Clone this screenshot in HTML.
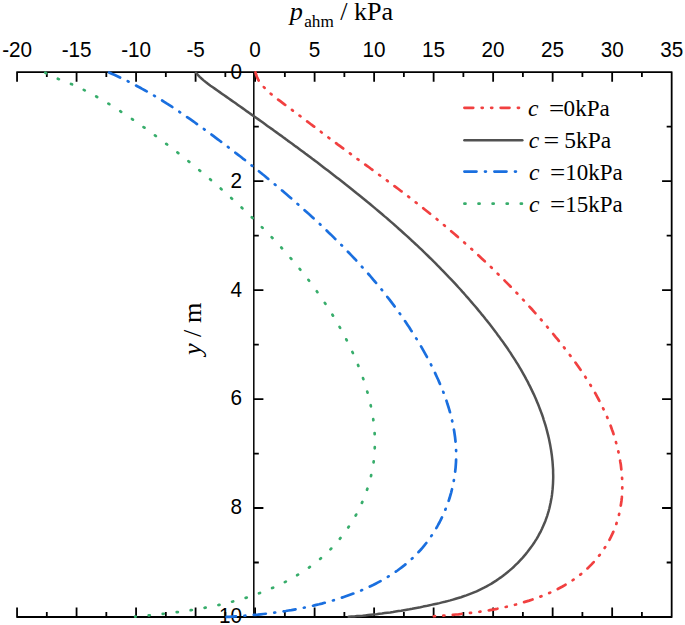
<!DOCTYPE html><html><head><meta charset="utf-8"><title>p_ahm vs y</title><style>html,body{margin:0;padding:0;background:#fff}svg{display:block}text{fill:#000}</style></head><body>
<svg width="685" height="625" viewBox="0 0 685 625">
<rect width="685" height="625" fill="#fff"/>
<path d="M16.31,72.10 H672.42 M16.31,617.00 H672.42 M671.67,72.10 V617.00 M17.06,72.10 v9.60 M17.06,617.00 v-9.60 M46.81,72.10 v5.00 M46.81,617.00 v-5.00 M76.57,72.10 v9.60 M76.57,617.00 v-9.60 M106.33,72.10 v5.00 M106.33,617.00 v-5.00 M136.08,72.10 v9.60 M136.08,617.00 v-9.60 M165.83,72.10 v5.00 M165.83,617.00 v-5.00 M195.59,72.10 v9.60 M195.59,617.00 v-9.60 M225.34,72.10 v5.00 M225.34,617.00 v-5.00 M255.10,72.10 v9.60 M255.10,617.00 v-9.60 M284.86,72.10 v5.00 M284.86,617.00 v-5.00 M314.61,72.10 v9.60 M314.61,617.00 v-9.60 M344.37,72.10 v5.00 M344.37,617.00 v-5.00 M374.12,72.10 v9.60 M374.12,617.00 v-9.60 M403.88,72.10 v5.00 M403.88,617.00 v-5.00 M433.63,72.10 v9.60 M433.63,617.00 v-9.60 M463.38,72.10 v5.00 M463.38,617.00 v-5.00 M493.14,72.10 v9.60 M493.14,617.00 v-9.60 M522.89,72.10 v5.00 M522.89,617.00 v-5.00 M552.65,72.10 v9.60 M552.65,617.00 v-9.60 M582.40,72.10 v5.00 M582.40,617.00 v-5.00 M612.16,72.10 v9.60 M612.16,617.00 v-9.60 M641.91,72.10 v5.00 M641.91,617.00 v-5.00 M671.67,72.10 v9.60 M671.67,617.00 v-9.60 M253.80,72.10 h9.60 M671.67,72.10 h-9.60 M253.80,126.59 h5.00 M671.67,126.59 h-5.00 M253.80,181.08 h9.60 M671.67,181.08 h-9.60 M253.80,235.57 h5.00 M671.67,235.57 h-5.00 M253.80,290.06 h9.60 M671.67,290.06 h-9.60 M253.80,344.55 h5.00 M671.67,344.55 h-5.00 M253.80,399.04 h9.60 M671.67,399.04 h-9.60 M253.80,453.53 h5.00 M671.67,453.53 h-5.00 M253.80,508.02 h9.60 M671.67,508.02 h-9.60 M253.80,562.51 h5.00 M671.67,562.51 h-5.00 M253.80,617.00 h9.60 M671.67,617.00 h-9.60" stroke="#000" stroke-width="1.8" fill="none"/>
<path d="M253.80,72.10 V617.00" stroke="#000" stroke-width="1.5" fill="none"/>
<g font-family="Liberation Sans, sans-serif" font-size="20.7px">
<text transform="translate(17.1,56.5) scale(1,1.07)" text-anchor="middle">-20</text>
<text transform="translate(76.6,56.5) scale(1,1.07)" text-anchor="middle">-15</text>
<text transform="translate(136.1,56.5) scale(1,1.07)" text-anchor="middle">-10</text>
<text transform="translate(195.6,56.5) scale(1,1.07)" text-anchor="middle">-5</text>
<text transform="translate(255.1,56.5) scale(1,1.07)" text-anchor="middle">0</text>
<text transform="translate(314.6,56.5) scale(1,1.07)" text-anchor="middle">5</text>
<text transform="translate(374.1,56.5) scale(1,1.07)" text-anchor="middle">10</text>
<text transform="translate(433.6,56.5) scale(1,1.07)" text-anchor="middle">15</text>
<text transform="translate(493.1,56.5) scale(1,1.07)" text-anchor="middle">20</text>
<text transform="translate(552.6,56.5) scale(1,1.07)" text-anchor="middle">25</text>
<text transform="translate(612.2,56.5) scale(1,1.07)" text-anchor="middle">30</text>
<text transform="translate(671.7,56.5) scale(1,1.07)" text-anchor="middle">35</text>
<text transform="translate(242.1,78.5) scale(1,1.07)" text-anchor="end">0</text>
<text transform="translate(242.1,187.5) scale(1,1.07)" text-anchor="end">2</text>
<text transform="translate(242.1,296.5) scale(1,1.07)" text-anchor="end">4</text>
<text transform="translate(242.1,405.4) scale(1,1.07)" text-anchor="end">6</text>
<text transform="translate(242.1,514.4) scale(1,1.07)" text-anchor="end">8</text>
<text transform="translate(242.1,623.4) scale(1,1.07)" text-anchor="end">10</text>
</g>
<g fill="none" stroke-width="2.7" stroke-linejoin="round" stroke-linecap="round">
<path d="M45.3,72.6 L47.5,74.3 L49.8,75.7 L52.4,76.8 L55.0,77.8 L57.7,78.7 L60.4,79.7 L63.0,80.7 L65.7,81.7 L68.3,82.8 L70.9,83.9 L73.5,85.0 L76.1,86.2 L78.6,87.4 L81.2,88.6 L83.7,89.8 L86.2,91.1 L88.8,92.4 L91.3,93.8 L93.7,95.1 L96.2,96.5 L98.7,97.9 L101.1,99.3 L103.6,100.8 L106.0,102.2 L108.5,103.7 L110.9,105.2 L113.3,106.7 L115.7,108.2 L118.1,109.8 L120.5,111.3 L122.8,112.9 L125.2,114.4 L127.6,116.0 L129.9,117.6 L132.2,119.2 L134.6,120.8 L136.9,122.4 L139.2,124.0 L141.6,125.7 L143.9,127.3 L146.2,128.9 L148.5,130.6 L150.8,132.3 L153.0,133.9 L155.3,135.6 L157.6,137.3 L159.9,139.0 L162.1,140.7 L164.4,142.4 L166.6,144.1 L168.9,145.8 L171.1,147.5 L173.3,149.2 L175.6,151.0 L177.8,152.7 L180.0,154.4 L182.2,156.2 L184.4,158.0 L186.6,159.7 L188.8,161.5 L191.0,163.3 L193.2,165.1 L195.4,166.9 L197.5,168.7 L199.7,170.5 L201.9,172.3 L204.0,174.1 L206.2,175.9 L208.3,177.8 L210.5,179.6 L212.6,181.5 L214.8,183.3 L216.9,185.2 L219.0,187.0 L221.1,188.9 L223.3,190.8 L225.4,192.7 L227.5,194.6 L229.6,196.5 L231.7,198.4 L233.8,200.3 L235.9,202.2 L238.0,204.1 L240.1,206.0 L242.1,208.0 L244.2,209.9 L246.3,211.9 L248.3,213.8 L250.4,215.8 L252.4,217.8 L254.5,219.7 L256.5,221.7 L258.5,223.7 L260.5,225.7 L262.5,227.8 L264.5,229.8 L266.5,231.8 L268.5,233.8 L270.4,235.9 L272.4,237.9 L274.3,240.0 L276.3,242.1 L278.2,244.1 L280.1,246.2 L282.0,248.3 L283.9,250.4 L285.8,252.6 L287.7,254.7 L289.5,256.8 L291.4,259.0 L293.2,261.1 L295.0,263.3 L296.9,265.4 L298.7,267.6 L300.4,269.8 L302.2,272.0 L304.0,274.2 L305.7,276.4 L307.5,278.7 L309.2,280.9 L310.9,283.2 L312.6,285.4 L314.2,287.7 L315.9,290.0 L317.5,292.3 L319.2,294.6 L320.8,296.9 L322.4,299.2 L324.0,301.6 L325.5,303.9 L327.1,306.3 L328.6,308.6 L330.1,311.0 L331.6,313.4 L333.1,315.8 L334.6,318.2 L336.0,320.7 L337.4,323.1 L338.8,325.6 L340.2,328.0 L341.6,330.5 L343.0,333.0 L344.3,335.5 L345.6,338.0 L346.9,340.5 L348.2,343.1 L349.4,345.6 L350.6,348.2 L351.8,350.8 L353.0,353.3 L354.2,356.0 L355.3,358.6 L356.5,361.2 L357.6,363.8 L358.6,366.5 L359.7,369.1 L360.7,371.8 L361.7,374.5 L362.7,377.2 L363.6,379.9 L364.5,382.6 L365.4,385.3 L366.2,388.0 L367.0,390.8 L367.8,393.5 L368.5,396.3 L369.2,399.0 L369.9,401.8 L370.5,404.5 L371.1,407.3 L371.7,410.1 L372.2,412.9 L372.6,415.6 L373.1,418.4 L373.5,421.2 L373.8,424.0 L374.1,426.8 L374.3,429.6 L374.6,432.4 L374.7,435.2 L374.8,438.0 L374.9,440.8 L374.9,443.6 L374.8,446.4 L374.7,449.2 L374.6,452.0 L374.4,454.8 L374.1,457.5 L373.8,460.3 L373.5,463.1 L373.0,465.9 L372.6,468.7 L372.0,471.4 L371.4,474.2 L370.8,476.9 L370.1,479.7 L369.4,482.4 L368.6,485.1 L367.7,487.8 L366.8,490.5 L365.8,493.2 L364.8,495.9 L363.8,498.5 L362.7,501.1 L361.5,503.8 L360.3,506.3 L359.1,508.9 L357.8,511.5 L356.5,514.0 L355.1,516.5 L353.7,519.0 L352.2,521.4 L350.7,523.8 L349.1,526.2 L347.5,528.6 L345.9,530.9 L344.2,533.2 L342.5,535.5 L340.7,537.7 L338.9,539.9 L337.1,542.1 L335.2,544.2 L333.3,546.3 L331.4,548.4 L329.4,550.4 L327.4,552.4 L325.3,554.3 L323.2,556.2 L321.1,558.0 L319.0,559.9 L316.8,561.6 L314.6,563.4 L312.3,565.1 L310.1,566.8 L307.8,568.4 L305.5,570.0 L303.1,571.5 L300.7,573.1 L298.3,574.5 L295.9,576.0 L293.5,577.4 L291.0,578.8 L288.5,580.2 L286.0,581.5 L283.5,582.8 L281.0,584.0 L278.4,585.2 L275.8,586.4 L273.2,587.6 L270.6,588.7 L268.0,589.8 L265.3,590.9 L262.7,591.9 L260.0,592.9 L257.3,593.9 L254.7,594.9 L252.0,595.8 L249.3,596.7 L246.5,597.6 L243.8,598.4 L241.1,599.2 L238.4,600.0 L235.6,600.8 L232.9,601.5 L230.1,602.3 L227.4,603.0 L224.6,603.6 L221.9,604.3 L219.1,604.9 L216.4,605.5 L213.6,606.1 L210.8,606.6 L208.1,607.2 L205.3,607.7 L202.5,608.2 L199.7,608.7 L197.0,609.2 L194.2,609.6 L191.4,610.1 L188.6,610.5 L185.8,610.9 L183.0,611.3 L180.2,611.7 L177.4,612.1 L174.6,612.4 L171.8,612.8 L169.0,613.1 L166.2,613.5 L163.4,613.8 L160.6,614.1 L157.8,614.4 L155.0,614.7 L152.1,615.0 L149.3,615.3 L146.5,615.6 L143.7,615.8 L140.8,616.1 L138.0,616.4 L135.2,616.7" stroke="#37AD6B" stroke-dasharray="1.1 13"/>
<path d="M109.1,72.5 L111.7,73.7 L114.3,74.8 L116.9,76.0 L119.5,77.2 L122.1,78.4 L124.6,79.7 L127.2,80.9 L129.7,82.2 L132.2,83.5 L134.7,84.8 L137.3,86.2 L139.8,87.5 L142.2,88.9 L144.7,90.2 L147.2,91.6 L149.7,93.0 L152.1,94.5 L154.6,95.9 L157.0,97.4 L159.4,98.9 L161.8,100.3 L164.2,101.8 L166.6,103.4 L169.0,104.9 L171.4,106.4 L173.8,108.0 L176.2,109.6 L178.5,111.2 L180.9,112.8 L183.2,114.4 L185.6,116.0 L187.9,117.6 L190.2,119.2 L192.6,120.9 L194.9,122.5 L197.2,124.2 L199.5,125.8 L201.8,127.5 L204.1,129.2 L206.4,130.9 L208.7,132.5 L211.0,134.2 L213.3,135.9 L215.5,137.6 L217.8,139.3 L220.1,141.0 L222.4,142.7 L224.6,144.4 L226.9,146.1 L229.2,147.9 L231.4,149.6 L233.7,151.3 L235.9,153.1 L238.2,154.8 L240.4,156.5 L242.6,158.3 L244.9,160.0 L247.1,161.8 L249.3,163.6 L251.5,165.3 L253.7,167.1 L256.0,168.9 L258.2,170.7 L260.4,172.5 L262.6,174.3 L264.8,176.0 L267.0,177.9 L269.2,179.7 L271.3,181.5 L273.5,183.3 L275.7,185.1 L277.9,186.9 L280.0,188.8 L282.2,190.6 L284.4,192.5 L286.5,194.3 L288.7,196.2 L290.8,198.0 L293.0,199.9 L295.1,201.8 L297.2,203.6 L299.4,205.5 L301.5,207.4 L303.6,209.3 L305.7,211.2 L307.8,213.1 L310.0,215.0 L312.1,216.9 L314.1,218.8 L316.2,220.8 L318.3,222.7 L320.4,224.6 L322.5,226.6 L324.5,228.5 L326.6,230.5 L328.6,232.5 L330.7,234.4 L332.7,236.4 L334.7,238.4 L336.8,240.4 L338.8,242.4 L340.8,244.4 L342.8,246.4 L344.8,248.5 L346.7,250.5 L348.7,252.5 L350.7,254.6 L352.6,256.6 L354.6,258.7 L356.5,260.8 L358.4,262.9 L360.3,265.0 L362.2,267.1 L364.1,269.2 L366.0,271.3 L367.9,273.4 L369.8,275.5 L371.6,277.7 L373.4,279.8 L375.3,282.0 L377.1,284.2 L378.9,286.3 L380.7,288.5 L382.5,290.7 L384.2,292.9 L386.0,295.2 L387.7,297.4 L389.5,299.6 L391.2,301.9 L392.9,304.1 L394.6,306.4 L396.3,308.7 L397.9,311.0 L399.6,313.3 L401.2,315.6 L402.8,317.9 L404.5,320.3 L406.0,322.6 L407.6,325.0 L409.2,327.3 L410.7,329.7 L412.3,332.1 L413.8,334.5 L415.3,336.9 L416.8,339.3 L418.3,341.8 L419.7,344.2 L421.2,346.7 L422.6,349.2 L424.0,351.6 L425.4,354.1 L426.8,356.7 L428.1,359.2 L429.4,361.7 L430.8,364.3 L432.1,366.8 L433.3,369.4 L434.6,372.0 L435.8,374.6 L437.0,377.2 L438.2,379.8 L439.3,382.4 L440.5,385.1 L441.6,387.7 L442.6,390.4 L443.7,393.0 L444.7,395.7 L445.6,398.4 L446.6,401.1 L447.4,403.8 L448.3,406.5 L449.1,409.2 L449.9,411.9 L450.6,414.6 L451.3,417.4 L452.0,420.1 L452.6,422.9 L453.2,425.6 L453.7,428.4 L454.2,431.2 L454.6,434.0 L455.0,436.7 L455.3,439.5 L455.6,442.3 L455.8,445.1 L456.0,447.9 L456.1,450.7 L456.2,453.5 L456.2,456.3 L456.1,459.2 L456.0,462.0 L455.8,464.8 L455.6,467.6 L455.3,470.4 L455.0,473.3 L454.6,476.1 L454.1,478.9 L453.6,481.7 L453.1,484.5 L452.5,487.2 L451.8,490.0 L451.1,492.8 L450.3,495.5 L449.5,498.3 L448.6,501.0 L447.6,503.7 L446.7,506.4 L445.6,509.0 L444.5,511.7 L443.4,514.3 L442.2,516.9 L441.0,519.4 L439.7,522.0 L438.3,524.5 L437.0,527.0 L435.5,529.4 L434.0,531.9 L432.5,534.3 L430.9,536.6 L429.3,538.9 L427.7,541.2 L425.9,543.5 L424.2,545.7 L422.4,547.8 L420.5,550.0 L418.6,552.0 L416.7,554.1 L414.7,556.1 L412.7,558.0 L410.6,559.9 L408.5,561.8 L406.4,563.6 L404.2,565.4 L402.0,567.1 L399.8,568.8 L397.5,570.5 L395.2,572.1 L392.8,573.7 L390.4,575.2 L388.0,576.7 L385.6,578.2 L383.1,579.6 L380.7,581.0 L378.1,582.4 L375.6,583.7 L373.1,585.0 L370.5,586.2 L367.9,587.4 L365.3,588.6 L362.6,589.8 L360.0,590.9 L357.3,592.0 L354.6,593.1 L352.0,594.1 L349.3,595.1 L346.5,596.1 L343.8,597.0 L341.1,597.9 L338.3,598.8 L335.6,599.7 L332.9,600.5 L330.1,601.3 L327.3,602.1 L324.6,602.8 L321.8,603.6 L319.1,604.3 L316.3,604.9 L313.5,605.6 L310.8,606.2 L308.0,606.8 L305.2,607.4 L302.5,608.0 L299.7,608.6 L296.9,609.1 L294.2,609.6 L291.4,610.1 L288.6,610.5 L285.8,611.0 L283.1,611.4 L280.3,611.8 L277.5,612.2 L274.7,612.6 L271.9,613.0 L269.1,613.3 L266.3,613.7 L263.5,614.0 L260.7,614.3 L257.9,614.6 L255.0,614.8 L252.2,615.1 L249.4,615.3 L246.5,615.6 L243.7,615.8 L240.9,616.0 L238.0,616.2 L235.2,616.4 L232.3,616.6 L229.4,616.8 L226.6,616.9" stroke="#1A6FDF" stroke-dasharray="12.1 8.5 0.9 8.5"/>
<path d="M196.0,72.8 L197.8,74.9 L199.7,76.9 L201.8,78.8 L203.9,80.6 L206.0,82.3 L208.2,84.0 L210.5,85.7 L212.8,87.3 L215.1,88.9 L217.4,90.5 L219.7,92.1 L221.9,93.7 L224.2,95.3 L226.5,96.9 L228.8,98.5 L231.1,100.1 L233.4,101.7 L235.7,103.3 L237.9,104.9 L240.2,106.5 L242.5,108.1 L244.8,109.7 L247.0,111.4 L249.3,113.0 L251.6,114.6 L253.9,116.2 L256.1,117.8 L258.4,119.4 L260.7,121.0 L262.9,122.6 L265.2,124.3 L267.4,125.9 L269.7,127.5 L272.0,129.1 L274.2,130.8 L276.5,132.4 L278.7,134.0 L281.0,135.6 L283.2,137.3 L285.5,138.9 L287.7,140.6 L290.0,142.2 L292.2,143.8 L294.4,145.5 L296.7,147.1 L298.9,148.8 L301.2,150.5 L303.4,152.1 L305.6,153.8 L307.9,155.4 L310.1,157.1 L312.3,158.8 L314.6,160.4 L316.8,162.1 L319.0,163.8 L321.2,165.5 L323.4,167.2 L325.7,168.9 L327.9,170.6 L330.1,172.3 L332.3,174.0 L334.5,175.7 L336.7,177.4 L338.9,179.1 L341.1,180.8 L343.3,182.5 L345.5,184.3 L347.7,186.0 L349.9,187.7 L352.1,189.5 L354.2,191.2 L356.4,193.0 L358.6,194.7 L360.8,196.5 L362.9,198.2 L365.1,200.0 L367.2,201.8 L369.4,203.5 L371.5,205.3 L373.7,207.1 L375.8,208.9 L378.0,210.7 L380.1,212.5 L382.2,214.3 L384.3,216.1 L386.5,217.9 L388.6,219.8 L390.7,221.6 L392.8,223.4 L394.9,225.3 L397.0,227.1 L399.0,229.0 L401.1,230.8 L403.2,232.7 L405.3,234.6 L407.3,236.4 L409.4,238.3 L411.4,240.2 L413.5,242.1 L415.5,244.0 L417.6,245.9 L419.6,247.8 L421.6,249.7 L423.6,251.7 L425.6,253.6 L427.6,255.5 L429.6,257.5 L431.6,259.4 L433.6,261.4 L435.6,263.3 L437.5,265.3 L439.5,267.3 L441.4,269.3 L443.4,271.3 L445.3,273.3 L447.2,275.3 L449.1,277.3 L451.1,279.3 L453.0,281.3 L454.9,283.4 L456.7,285.4 L458.6,287.5 L460.5,289.5 L462.3,291.6 L464.2,293.7 L466.0,295.8 L467.9,297.9 L469.7,300.0 L471.5,302.1 L473.3,304.2 L475.1,306.3 L476.9,308.4 L478.7,310.6 L480.5,312.7 L482.2,314.9 L484.0,317.0 L485.7,319.2 L487.5,321.4 L489.2,323.6 L490.9,325.8 L492.6,328.0 L494.3,330.2 L496.0,332.4 L497.6,334.7 L499.3,336.9 L500.9,339.2 L502.6,341.4 L504.2,343.7 L505.8,346.0 L507.4,348.3 L508.9,350.6 L510.5,352.9 L512.0,355.3 L513.5,357.6 L515.0,359.9 L516.5,362.3 L518.0,364.7 L519.4,367.1 L520.8,369.4 L522.2,371.9 L523.6,374.3 L524.9,376.7 L526.2,379.2 L527.6,381.6 L528.8,384.1 L530.1,386.6 L531.3,389.1 L532.5,391.6 L533.7,394.1 L534.8,396.6 L536.0,399.2 L537.0,401.7 L538.1,404.3 L539.1,406.9 L540.1,409.5 L541.1,412.1 L542.1,414.8 L543.0,417.4 L543.8,420.1 L544.7,422.8 L545.5,425.4 L546.3,428.2 L547.0,430.9 L547.7,433.6 L548.4,436.4 L549.0,439.1 L549.6,441.9 L550.1,444.6 L550.6,447.4 L551.1,450.2 L551.5,453.0 L551.9,455.8 L552.2,458.6 L552.5,461.4 L552.7,464.2 L552.9,467.0 L553.1,469.8 L553.1,472.6 L553.2,475.4 L553.2,478.1 L553.1,480.9 L553.0,483.7 L552.8,486.5 L552.6,489.2 L552.3,492.0 L552.0,494.7 L551.6,497.4 L551.1,500.1 L550.6,502.8 L550.0,505.5 L549.4,508.2 L548.7,510.8 L547.9,513.5 L547.1,516.1 L546.2,518.7 L545.3,521.2 L544.2,523.8 L543.1,526.3 L542.0,528.8 L540.8,531.3 L539.5,533.7 L538.2,536.2 L536.8,538.6 L535.3,540.9 L533.8,543.3 L532.2,545.6 L530.6,547.8 L528.9,550.1 L527.2,552.3 L525.5,554.4 L523.6,556.6 L521.8,558.7 L519.9,560.7 L517.9,562.8 L515.9,564.7 L513.9,566.7 L511.8,568.6 L509.7,570.4 L507.5,572.2 L505.3,574.0 L503.1,575.7 L500.8,577.4 L498.5,579.0 L496.2,580.6 L493.8,582.1 L491.5,583.6 L489.0,585.0 L486.6,586.4 L484.1,587.7 L481.6,588.9 L479.1,590.1 L476.6,591.3 L474.0,592.4 L471.5,593.4 L468.9,594.4 L466.3,595.4 L463.6,596.3 L461.0,597.2 L458.3,598.0 L455.7,598.8 L453.0,599.6 L450.3,600.4 L447.6,601.1 L444.9,601.8 L442.2,602.4 L439.5,603.1 L436.8,603.7 L434.0,604.3 L431.3,604.9 L428.6,605.5 L425.9,606.1 L423.1,606.6 L420.4,607.2 L417.7,607.7 L414.9,608.2 L412.2,608.8 L409.5,609.3 L406.7,609.7 L404.0,610.2 L401.2,610.7 L398.5,611.1 L395.7,611.5 L393.0,612.0 L390.2,612.4 L387.5,612.7 L384.7,613.1 L382.0,613.5 L379.2,613.8 L376.5,614.2 L373.7,614.5 L370.9,614.8 L368.2,615.1 L365.4,615.4 L362.6,615.7 L359.8,615.9 L357.1,616.1 L354.3,616.4 L351.5,616.6 L348.7,616.8" stroke="#515151" stroke-width="2.5"/>
<path d="M255.5,72.3 L256.2,75.1 L257.2,77.7 L258.4,80.1 L259.9,82.4 L261.6,84.6 L263.4,86.6 L265.3,88.6 L267.3,90.6 L269.3,92.4 L271.4,94.3 L273.6,96.0 L275.8,97.8 L278.0,99.5 L280.3,101.2 L282.5,102.9 L284.8,104.6 L287.1,106.2 L289.3,107.9 L291.6,109.6 L293.8,111.3 L296.0,112.9 L298.2,114.6 L300.5,116.3 L302.7,118.0 L304.9,119.6 L307.1,121.3 L309.3,123.0 L311.5,124.7 L313.7,126.3 L315.9,128.0 L318.1,129.7 L320.2,131.3 L322.4,133.0 L324.6,134.7 L326.8,136.3 L329.0,138.0 L331.3,139.6 L333.5,141.3 L335.7,142.9 L337.9,144.6 L340.1,146.2 L342.4,147.9 L344.6,149.5 L346.8,151.2 L349.1,152.8 L351.3,154.4 L353.5,156.1 L355.8,157.7 L358.0,159.4 L360.3,161.0 L362.5,162.6 L364.8,164.3 L367.0,165.9 L369.3,167.5 L371.5,169.2 L373.8,170.8 L376.0,172.5 L378.2,174.1 L380.5,175.8 L382.7,177.4 L385.0,179.1 L387.2,180.7 L389.5,182.4 L391.7,184.0 L393.9,185.7 L396.2,187.4 L398.4,189.0 L400.6,190.7 L402.8,192.4 L405.1,194.1 L407.3,195.8 L409.5,197.5 L411.7,199.2 L413.9,200.9 L416.1,202.6 L418.3,204.3 L420.5,206.0 L422.7,207.7 L424.8,209.5 L427.0,211.2 L429.2,213.0 L431.3,214.7 L433.5,216.5 L435.7,218.2 L437.8,220.0 L439.9,221.8 L442.1,223.5 L444.2,225.3 L446.3,227.1 L448.5,228.9 L450.6,230.7 L452.7,232.5 L454.8,234.3 L456.9,236.1 L459.0,238.0 L461.1,239.8 L463.2,241.6 L465.3,243.5 L467.4,245.3 L469.4,247.2 L471.5,249.0 L473.5,250.9 L475.6,252.8 L477.6,254.6 L479.7,256.5 L481.7,258.4 L483.7,260.3 L485.8,262.2 L487.8,264.1 L489.8,266.0 L491.8,267.9 L493.8,269.9 L495.8,271.8 L497.8,273.8 L499.8,275.7 L501.7,277.7 L503.7,279.6 L505.6,281.6 L507.6,283.6 L509.5,285.5 L511.5,287.5 L513.4,289.5 L515.3,291.5 L517.3,293.5 L519.2,295.5 L521.1,297.6 L523.0,299.6 L524.9,301.6 L526.8,303.7 L528.6,305.7 L530.5,307.8 L532.4,309.8 L534.2,311.9 L536.1,314.0 L537.9,316.0 L539.7,318.1 L541.6,320.2 L543.4,322.3 L545.2,324.4 L547.0,326.6 L548.8,328.7 L550.6,330.8 L552.4,333.0 L554.1,335.1 L555.9,337.3 L557.7,339.4 L559.4,341.6 L561.1,343.8 L562.9,346.0 L564.6,348.2 L566.3,350.4 L568.0,352.6 L569.7,354.8 L571.4,357.0 L573.0,359.3 L574.7,361.5 L576.3,363.8 L577.9,366.0 L579.5,368.3 L581.1,370.6 L582.6,372.9 L584.2,375.2 L585.7,377.5 L587.2,379.9 L588.7,382.2 L590.2,384.6 L591.6,386.9 L593.0,389.3 L594.4,391.7 L595.8,394.1 L597.1,396.6 L598.4,399.0 L599.7,401.4 L601.0,403.9 L602.2,406.4 L603.4,408.9 L604.6,411.4 L605.7,413.9 L606.9,416.4 L607.9,419.0 L609.0,421.6 L610.0,424.1 L611.0,426.7 L611.9,429.4 L612.9,432.0 L613.7,434.6 L614.6,437.3 L615.4,440.0 L616.1,442.7 L616.9,445.4 L617.6,448.1 L618.2,450.9 L618.8,453.6 L619.4,456.3 L619.9,459.1 L620.3,461.9 L620.8,464.6 L621.1,467.4 L621.4,470.2 L621.7,473.0 L621.9,475.8 L622.1,478.5 L622.2,481.3 L622.3,484.1 L622.3,486.9 L622.2,489.6 L622.1,492.4 L622.0,495.2 L621.8,497.9 L621.5,500.7 L621.1,503.4 L620.7,506.1 L620.3,508.8 L619.7,511.5 L619.1,514.2 L618.5,516.8 L617.7,519.5 L616.9,522.1 L616.1,524.7 L615.1,527.3 L614.1,529.9 L613.1,532.4 L611.9,534.9 L610.7,537.4 L609.4,539.9 L608.1,542.3 L606.6,544.7 L605.2,547.1 L603.6,549.4 L602.0,551.7 L600.4,554.0 L598.7,556.2 L596.9,558.4 L595.1,560.5 L593.2,562.6 L591.3,564.6 L589.3,566.6 L587.3,568.6 L585.2,570.5 L583.1,572.3 L581.0,574.1 L578.8,575.8 L576.6,577.5 L574.3,579.1 L572.0,580.7 L569.7,582.2 L567.3,583.7 L564.9,585.1 L562.5,586.5 L560.1,587.8 L557.6,589.1 L555.1,590.3 L552.6,591.5 L550.0,592.7 L547.5,593.8 L544.9,594.9 L542.3,595.9 L539.7,596.9 L537.1,597.9 L534.5,598.8 L531.8,599.7 L529.2,600.6 L526.6,601.4 L523.9,602.2 L521.2,603.0 L518.6,603.7 L515.9,604.5 L513.2,605.2 L510.5,605.8 L507.8,606.5 L505.1,607.1 L502.4,607.7 L499.7,608.2 L497.0,608.8 L494.3,609.3 L491.5,609.8 L488.8,610.3 L486.1,610.7 L483.3,611.1 L480.6,611.6 L477.9,612.0 L475.1,612.3 L472.3,612.7 L469.6,613.0 L466.8,613.4 L464.1,613.7 L461.3,614.0 L458.5,614.3 L455.8,614.5 L453.0,614.8 L450.2,615.0 L447.4,615.3 L444.7,615.5 L441.9,615.7 L439.1,615.9 L436.3,616.1 L433.5,616.3 L430.8,616.5 L428.0,616.7" stroke="#F14040" stroke-dasharray="8.85 8.4 1.1 8.4 1.1 8.4"/>
</g>
<g font-family="Liberation Serif, serif">
<text y="20.4" font-size="26.2px"><tspan x="289.8" font-style="italic">p</tspan><tspan x="304.2" font-size="17.2px" dy="7">ahm</tspan><tspan x="340.2" dy="-7">/</tspan><tspan x="353.9">kPa</tspan></text>
<g transform="translate(200.7,0) rotate(-90)" font-size="26.2px"><text x="-355" y="0" font-style="italic">y</text><text x="-337" y="0">/</text><text x="-323" y="0">m</text></g>
<path d="M464.4,107.8 H522.3" stroke="#F14040" stroke-width="2.7" stroke-linecap="round" fill="none" stroke-dasharray="8.85 8.4 1.1 8.4 1.1 8.4"/>
<text transform="translate(527.9,115.6) scale(1,1)" font-size="23.6px" font-style="italic">c</text>
<text transform="translate(549.1,115.6) scale(1.14,1)" font-size="23.6px">=</text>
<text transform="translate(563.6,115.6) scale(0.98,1)" font-size="23.6px">0kPa</text>
<path d="M464.4,140.3 H522.3" stroke="#515151" stroke-width="2.5" stroke-linecap="round" fill="none"/>
<text transform="translate(528.8,147.6) scale(1,1)" font-size="23.6px" font-style="italic">c</text>
<text transform="translate(543.5,147.6) scale(1.18,1)" font-size="23.6px">=</text>
<text transform="translate(564.3,147.6) scale(0.995,1)" font-size="23.6px">5kPa</text>
<path d="M464.4,171.6 H522.3" stroke="#1A6FDF" stroke-width="2.7" stroke-linecap="round" fill="none" stroke-dasharray="12.1 8.5 0.9 8.5"/>
<text transform="translate(529.0,179.7) scale(1,1)" font-size="23.6px" font-style="italic">c</text>
<text transform="translate(550.0,179.7) scale(1.14,1)" font-size="23.6px">=</text>
<text transform="translate(565.3,179.7) scale(0.975,1)" font-size="23.6px">10kPa</text>
<path d="M464.4,203.7 H522.3" stroke="#37AD6B" stroke-width="2.7" stroke-linecap="round" fill="none" stroke-dasharray="1.1 13"/>
<text transform="translate(529.0,211.8) scale(1,1)" font-size="23.6px" font-style="italic">c</text>
<text transform="translate(550.0,211.8) scale(1.14,1)" font-size="23.6px">=</text>
<text transform="translate(565.3,211.8) scale(0.975,1)" font-size="23.6px">15kPa</text>
</g>
</svg></body></html>
